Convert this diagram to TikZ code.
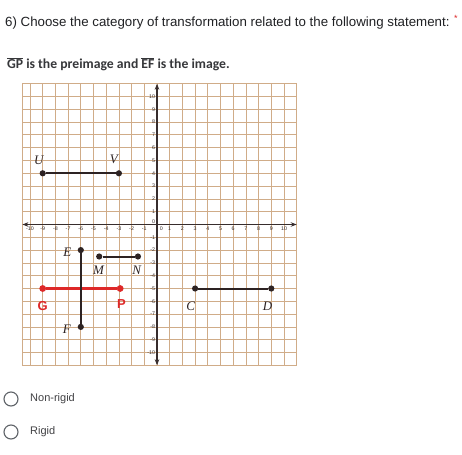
\documentclass[tikz,border=0pt]{standalone}
\usepackage{fontspec}
\setmainfont{Liberation Sans}
\newfontfamily\carl{Carlito}
\newfontfamily\tms{Liberation Serif}
\usetikzlibrary{arrows.meta}
\definecolor{gridc}{RGB}{208,172,136}
\definecolor{axisc}{RGB}{55,45,45}
\definecolor{segc}{RGB}{45,35,35}
\definecolor{redc}{RGB}{222,40,40}
\definecolor{txt}{RGB}{32,33,36}
\definecolor{optc}{RGB}{95,99,104}
\tikzset{
  tick/.style={font=\fontsize{5.3}{6}\selectfont, text=axisc, inner sep=0.4pt},
  ptlab/.style={font=\tms\itshape\fontsize{13}{13}\selectfont, text=segc, inner sep=0},
  redlab/.style={font=\bfseries\fontsize{13}{13}\selectfont, text=redc, inner sep=0},
  seg/.style={segc, line width=2pt},
  redseg/.style={redc, line width=2.8pt},
  dot/.style={circle, fill=segc, inner sep=0, minimum size=6.2pt},
  reddot/.style={circle, fill=redc, inner sep=0, minimum size=6.8pt},
  radio/.style={circle, draw=optc, line width=1.1pt, minimum size=14pt, inner sep=0},
  opttext/.style={anchor=west, font=\fontsize{11}{13}\selectfont, text=txt!85, inner sep=0},
}
\begin{document}
\begin{tikzpicture}[x=1pt,y=-1pt]
\useasboundingbox[fill=white] (0,0) rectangle (462,454);
% header
\node[anchor=west, font=\fontsize{13.3}{15}\selectfont, text=txt, inner sep=0] (title) at (5,23)
  {6) Choose the category of transformation related to the following statement:};
\node[anchor=west, font=\fontsize{9}{9}\selectfont, text=redc, inner sep=0] (star) at (454,18) {*};
\node[anchor=west, font=\carl\bfseries\fontsize{13.7}{15}\selectfont, text=txt!90, inner sep=0] (stmt) at (7,64)
  {$\overline{\mbox{GP}}$ is the preimage and $\overline{\mbox{EF}}$ is the image.};
% graph
\begin{scope}[shift={(157,224.5)}, x=12.7pt, y=12.8pt]
  \draw[gridc, line width=0.8pt, step=1] (-10.6,-11) grid (11,11);
  \draw[gridc, line width=0.8pt] (-10.6,-11) -- (-10.6,11);
  \draw[axisc, line width=1.1pt, {Stealth[length=6pt,width=4.5pt]}-{Stealth[length=6pt,width=4.5pt]}] (-10.6,0) -- (11,0);
  \draw[axisc, line width=1.1pt, {Stealth[length=6pt,width=4.5pt]}-{Stealth[length=6pt,width=4.5pt]}] (0,-11) -- (0,11);
  \foreach \i in {-10,...,-1} {
    \node[tick, anchor=north] at (\i,-0.12) {\i};
    \node[tick, anchor=east] at (-0.1,\i) {\i};
  }
  \foreach \i in {1,...,10} {
    \node[tick, anchor=north] at (\i,-0.12) {\i};
    \node[tick, anchor=east] at (-0.1,\i) {\i};
  }
  \node[tick, anchor=north] at (0.35,-0.12) {0};
  \node[tick, anchor=east] at (-0.1,0.2) {0};
  % segments
  \node[dot] (U) at (-9,4) {};
  \node[dot] (V) at (-3,4) {};
  \draw[seg] (U) -- (V);
  \node[ptlab] (Ul) at (-9.3,5.0) {U};
  \node[ptlab] (Vl) at (-3.4,5.1) {V};
  \node[dot] (E) at (-6,-2) {};
  \node[dot] (F) at (-6,-8) {};
  \node[ptlab] (El) at (-7.05,-2.2) {E};
  \node[ptlab] (Fl) at (-7.1,-8.2) {F};
  \node[dot] (M) at (-4.55,-2.5) {};
  \node[dot] (N) at (-1.5,-2.5) {};
  \draw[seg] (M) -- (N);
  \node[ptlab] (Ml) at (-4.6,-3.6) {M};
  \node[ptlab] (Nl) at (-1.6,-3.6) {N};
  \node[reddot] (G) at (-9,-5) {};
  \node[reddot] (P) at (-2.9,-5) {};
  \draw[redseg] (G) -- (P);
  \draw[seg] (E) -- (F);
  \node[redlab] (Gl) at (-9,-6.4) {G};
  \node[redlab] (Pl) at (-2.8,-6.2) {P};
  \node[dot] (C) at (3,-5) {};
  \node[dot] (D) at (9,-5) {};
  \draw[seg] (C) -- (D);
  \node[ptlab] (Cl) at (2.65,-6.4) {C};
  \node[ptlab] (Dl) at (8.7,-6.4) {D};
\end{scope}
% options
\node[radio] (r1) at (11,399) {};
\node[opttext] (o1) at (30,399) {Non-rigid};
\node[radio] (r2) at (11,432) {};
\node[opttext] (o2) at (30,432) {Rigid};
\end{tikzpicture}
\end{document}
